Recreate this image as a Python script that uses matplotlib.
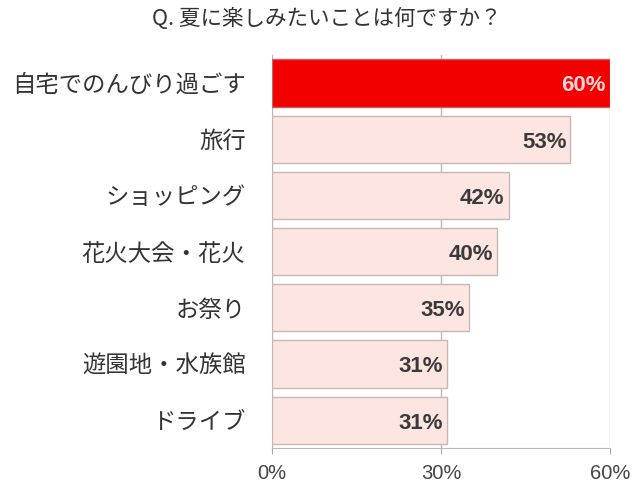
import matplotlib
matplotlib.use("Agg")
import matplotlib.pyplot as plt

plt.rcParams['font.family'] = ['Noto Sans CJK JP', 'DejaVu Sans']

categories = ["自宅でのんびり過ごす", "旅行", "ショッピング", "花火大会・花火", "お祭り", "遊園地・水族館", "ドライブ"]
values = [60, 53, 42, 40, 35, 31, 31]
xticks = [0, 30, 60]
xtick_labels = ["0%", "30%", "60%"]
title = "Q. 夏に楽しみたいことは何ですか？"

fig = plt.figure(figsize=(6.4, 4.91), dpi=100)
ax = fig.add_axes([0.425, 0.087, 0.528, 0.801])

colors = ["#f20000"] + ["#fde5e1"] * (len(values) - 1)
edges = ["#c86060"] + ["#c8b8b4"] * (len(values) - 1)
ypos = list(range(len(values)))
ax.barh(ypos, values, height=0.84, color=colors, edgecolor=edges, linewidth=1.0, zorder=3)

ax.set_xlim(0, 60)
ax.set_ylim(len(values) - 0.5, -0.5)
ax.set_xticks(xticks)
ax.set_xticklabels(xtick_labels, fontsize=14.5, color="#444444", family=["Liberation Sans"])
ax.set_yticks(ypos)
ax.set_yticklabels(categories, fontsize=16.8, color="#333333")
ax.tick_params(axis='y', length=0, pad=19)
ax.tick_params(axis='x', length=4, color="#aaaaaa", pad=7)
ax.xaxis.grid(True, color="#bbbbbb", linewidth=1, zorder=0)
for s in ["top", "right"]:
    ax.spines[s].set_visible(False)
ax.spines["left"].set_color("#bbbbbb")
ax.spines["bottom"].set_color("#bbbbbb")

for i, v in enumerate(values):
    c = "#ffd6d6" if i == 0 else "#3a3a3a"
    ax.text(v - 0.7, i + 0.05, f"{v}%", ha="right", va="center", fontsize=16,
            fontweight="bold", color=c, zorder=4, family=["Liberation Sans"])

fig.text(0.511, 0.962, title, ha="center", va="center", fontsize=15.5, color="#333333")

fig.savefig("out.png", dpi=100)
